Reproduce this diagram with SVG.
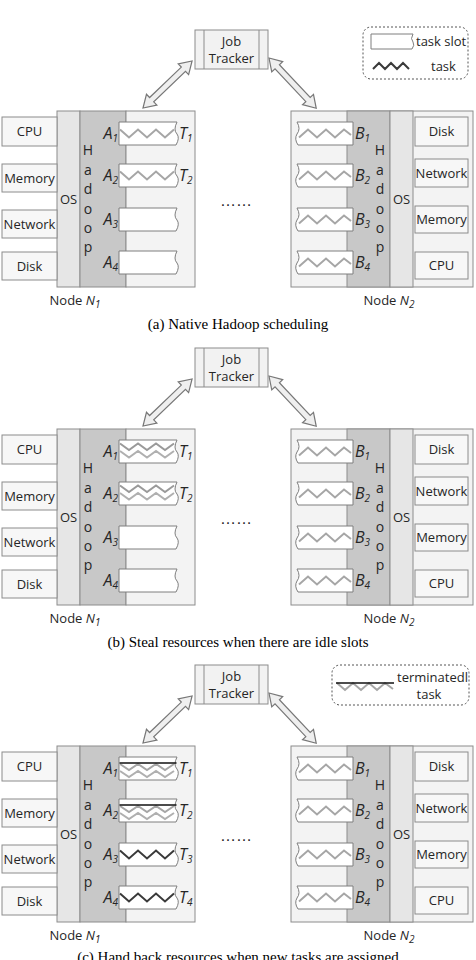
<svg xmlns="http://www.w3.org/2000/svg" xmlns:xlink="http://www.w3.org/1999/xlink" width="476" height="960" viewBox="0 0 476 960">
<style>
.t{font-family:"Open Sans","Liberation Sans",sans-serif;font-size:13px;fill:#262626}
.c{text-anchor:middle}
.it{font-style:italic;font-size:16px}
.sb{font-size:10px}
.hl{font-size:14px;text-anchor:middle}
.cap{font-family:"Liberation Serif",serif;font-size:15px;fill:#000;text-anchor:middle}
.dots{font-family:"Liberation Sans",sans-serif;font-size:16px;fill:#262626}
.body{fill:#f3f3f3;stroke:#8c8c8c;stroke-width:1}
.os{fill:#e6e6e6;stroke:#8c8c8c;stroke-width:1}
.hd{fill:#c8c8c8;stroke:#8c8c8c;stroke-width:1}
.box{fill:#f7f7f7;stroke:#8c8c8c;stroke-width:1}
.jt{fill:#f2f2f2;stroke:#8c8c8c;stroke-width:1}
.ln{stroke:#8c8c8c;stroke-width:1}
.lg{fill:none;stroke:#555;stroke-width:1;stroke-dasharray:2,2}
.arr{fill:#efefef;stroke:#777;stroke-width:1.2;stroke-linejoin:miter}
.slot{fill:#fff;stroke:#7f7f7f;stroke-width:1}
.zg{fill:none;stroke:#a6a6a6;stroke-width:2}
.zk{fill:none;stroke:#3a3a3a;stroke-width:2}
</style>
<defs>
<path id="sL" d="M0,0 H58 Q54,8 58,12 Q61,16 57,23 H0 Z" fill="#fff" stroke="#7f7f7f" stroke-width="1"/>
<path id="sR" d="M57,0 H1 Q5,7 1,12 Q-2,17 2,23 H57 Z" fill="#fff" stroke="#7f7f7f" stroke-width="1"/>
<polyline id="zA" points="1,7.5 10,15.5 19,7.5 28,15.5 37,7.5 46,15.5 55,7.5" fill="none" stroke="#a6a6a6" stroke-width="2"/>
<polyline id="zAk" points="1,7.5 10,15.5 19,7.5 28,15.5 37,7.5 46,15.5 55,7.5" fill="none" stroke="#3a3a3a" stroke-width="2"/>
<g id="zA2">
<polyline points="1,3.5 10,10 19,3.5 28,10 37,3.5 46,10 55,3.5" fill="none" stroke="#9a9a9a" stroke-width="2"/>
<polyline points="1,11 10,17.5 19,11 28,17.5 37,11 46,17.5 55,11" fill="none" stroke="#b0b0b0" stroke-width="2"/>
</g>
<g id="zAt">
<polyline points="1,7 10,13 19,7 28,13 37,7 46,13 55,7" fill="none" stroke="#a6a6a6" stroke-width="2"/>
<polyline points="1,14 10,20 19,14 28,20 37,14 46,20 55,14" fill="none" stroke="#b0b0b0" stroke-width="2"/>
<line x1="0.5" y1="6" x2="57.5" y2="6" stroke="#111" stroke-width="1.6"/>
</g>
<polyline id="zB" points="3,15.5 12,7.5 21,15.5 30,7.5 39,15.5 48,7.5 55,13" fill="none" stroke="#a6a6a6" stroke-width="2"/>
<polygon id="arL" class="arr" points="0,0 12,-7.5 12,-3 56,-3 56,-7.5 68,0 56,7.5 56,3 12,3 12,7.5"/>
<polygon id="arR" class="arr" points="0,0 12,-7.5 12,-3 57,-3 57,-7.5 69,0 57,7.5 57,3 12,3 12,7.5"/>
</defs>
<rect x="0" y="0" width="476" height="960" fill="#fff"/>

<!-- ===== Panel (a) ===== -->
<g id="panel-a">
<g id="connectors-a">
<polygon class="arr" transform="translate(143,108) rotate(-43.8)" points="0,0 12,-7.5 12,-3 56,-3 56,-7.5 68,0 56,7.5 56,3 12,3 12,7.5"/>
<polygon class="arr" transform="translate(269,58) rotate(46.8)" points="0,0 12,-7.5 12,-3 57,-3 57,-7.5 69,0 57,7.5 57,3 12,3 12,7.5"/>
</g>
<g id="jobtracker-a">
<rect x="195" y="30" width="73" height="39" class="jt"/>
<line x1="204" y1="30" x2="204" y2="69" class="ln"/>
<line x1="259" y1="30" x2="259" y2="69" class="ln"/>
<text x="231.5" y="46" class="t c">Job</text>
<text x="231.5" y="63" class="t c">Tracker</text>
</g>
<g id="legend-a">
<rect x="363" y="27" width="105" height="52" rx="8" class="lg"/>
<path d="M371,34 H413 Q410,39 413,42 Q415,45 412,49 H371 Z" class="slot"/>
<text x="416" y="46" class="t">task slot</text>
<polyline points="373,69 379,63 385,69 391,63 397,69 403,63 409,69" class="zk"/>
<text x="431" y="71" class="t">task</text>
</g>
<g id="node-n1-a">
<rect x="57" y="111" width="23" height="176" class="os"/>
<rect x="80" y="111" width="46" height="176" class="hd"/>
<rect x="126" y="111" width="69" height="176" class="body"/>
<rect x="2" y="117" width="55" height="29" class="box"/>
<rect x="2" y="164" width="55" height="28" class="box"/>
<rect x="2" y="210" width="55" height="28" class="box"/>
<rect x="2" y="252" width="55" height="28" class="box"/>
<text x="29.5" y="136" class="t c">CPU</text>
<text x="29.5" y="182.5" class="t c">Memory</text>
<text x="29.5" y="228.5" class="t c">Network</text>
<text x="29.5" y="270.5" class="t c">Disk</text>
<text x="68.5" y="204" class="t c">OS</text>
<text class="t hl"><tspan x="88" y="155">H</tspan><tspan x="88" y="174.5">a</tspan><tspan x="88" y="194">d</tspan><tspan x="88" y="213.5">o</tspan><tspan x="88" y="233">o</tspan><tspan x="88" y="252">p</tspan></text>
<use href="#sL" x="119" y="122"/>
<use href="#sL" x="119" y="164"/>
<use href="#sL" x="119" y="208"/>
<use href="#sL" x="119" y="251"/>
<use href="#zA" x="119" y="122"/>
<use href="#zA" x="119" y="164"/>
<text x="118" y="139" class="t it" text-anchor="end">A<tspan class="sb" dy="3">1</tspan></text>
<text x="118" y="181" class="t it" text-anchor="end">A<tspan class="sb" dy="3">2</tspan></text>
<text x="118" y="225" class="t it" text-anchor="end">A<tspan class="sb" dy="3">3</tspan></text>
<text x="118" y="268" class="t it" text-anchor="end">A<tspan class="sb" dy="3">4</tspan></text>
<text x="179" y="139" class="t it">T<tspan class="sb" dy="3">1</tspan></text>
<text x="179" y="181" class="t it">T<tspan class="sb" dy="3">2</tspan></text>
<text x="75" y="305" class="t c">Node <tspan font-style="italic">N</tspan><tspan class="sb" font-style="italic" dy="3">1</tspan></text>
</g>
<g id="node-n2-a">
<rect x="291" y="111" width="182" height="176" class="body"/>
<rect x="347" y="111" width="43" height="176" class="hd"/>
<rect x="390" y="111" width="23" height="176" class="os"/>
<rect x="415" y="117" width="53" height="29" class="box"/>
<rect x="415" y="159" width="53" height="28" class="box"/>
<rect x="415" y="206" width="53" height="27" class="box"/>
<rect x="415" y="252" width="53" height="27" class="box"/>
<text x="441.5" y="136" class="t c">Disk</text>
<text x="441.5" y="177.5" class="t c">Network</text>
<text x="441.5" y="224" class="t c">Memory</text>
<text x="441.5" y="270" class="t c">CPU</text>
<text x="401.5" y="204" class="t c">OS</text>
<text class="t hl"><tspan x="380" y="155">H</tspan><tspan x="380" y="174.5">a</tspan><tspan x="380" y="194">d</tspan><tspan x="380" y="213.5">o</tspan><tspan x="380" y="233">o</tspan><tspan x="380" y="252">p</tspan></text>
<use href="#sR" x="296" y="122"/>
<use href="#sR" x="296" y="164"/>
<use href="#sR" x="296" y="208"/>
<use href="#sR" x="296" y="251"/>
<use href="#zB" x="296" y="122"/>
<use href="#zB" x="296" y="164"/>
<use href="#zB" x="296" y="208"/>
<use href="#zB" x="296" y="251"/>
<text x="355" y="139" class="t it">B<tspan class="sb" dy="3">1</tspan></text>
<text x="355" y="181" class="t it">B<tspan class="sb" dy="3">2</tspan></text>
<text x="355" y="225" class="t it">B<tspan class="sb" dy="3">3</tspan></text>
<text x="355" y="268" class="t it">B<tspan class="sb" dy="3">4</tspan></text>
<text x="389" y="305" class="t c">Node <tspan font-style="italic">N</tspan><tspan class="sb" font-style="italic" dy="3">2</tspan></text>
</g>
<text x="220" y="206" class="dots">……</text>
<text x="238" y="329" class="cap">(a) Native Hadoop scheduling</text>
</g>

<!-- ===== Panel (b) ===== -->
<g id="panel-b" transform="translate(0,318)">
<g id="connectors-b">
<polygon class="arr" transform="translate(143,108) rotate(-43.8)" points="0,0 12,-7.5 12,-3 56,-3 56,-7.5 68,0 56,7.5 56,3 12,3 12,7.5"/>
<polygon class="arr" transform="translate(269,58) rotate(46.8)" points="0,0 12,-7.5 12,-3 57,-3 57,-7.5 69,0 57,7.5 57,3 12,3 12,7.5"/>
</g>
<g id="jobtracker-b">
<rect x="195" y="30" width="73" height="39" class="jt"/>
<line x1="204" y1="30" x2="204" y2="69" class="ln"/>
<line x1="259" y1="30" x2="259" y2="69" class="ln"/>
<text x="231.5" y="46" class="t c">Job</text>
<text x="231.5" y="63" class="t c">Tracker</text>
</g>
<g id="node-n1-b">
<rect x="57" y="111" width="23" height="176" class="os"/>
<rect x="80" y="111" width="46" height="176" class="hd"/>
<rect x="126" y="111" width="69" height="176" class="body"/>
<rect x="2" y="117" width="55" height="29" class="box"/>
<rect x="2" y="164" width="55" height="28" class="box"/>
<rect x="2" y="210" width="55" height="28" class="box"/>
<rect x="2" y="252" width="55" height="28" class="box"/>
<text x="29.5" y="136" class="t c">CPU</text>
<text x="29.5" y="182.5" class="t c">Memory</text>
<text x="29.5" y="228.5" class="t c">Network</text>
<text x="29.5" y="270.5" class="t c">Disk</text>
<text x="68.5" y="204" class="t c">OS</text>
<text class="t hl"><tspan x="88" y="155">H</tspan><tspan x="88" y="174.5">a</tspan><tspan x="88" y="194">d</tspan><tspan x="88" y="213.5">o</tspan><tspan x="88" y="233">o</tspan><tspan x="88" y="252">p</tspan></text>
<use href="#sL" x="119" y="122"/>
<use href="#sL" x="119" y="164"/>
<use href="#sL" x="119" y="208"/>
<use href="#sL" x="119" y="251"/>
<use href="#zA2" x="119" y="122"/>
<use href="#zA2" x="119" y="164"/>
<text x="118" y="139" class="t it" text-anchor="end">A<tspan class="sb" dy="3">1</tspan></text>
<text x="118" y="181" class="t it" text-anchor="end">A<tspan class="sb" dy="3">2</tspan></text>
<text x="118" y="225" class="t it" text-anchor="end">A<tspan class="sb" dy="3">3</tspan></text>
<text x="118" y="268" class="t it" text-anchor="end">A<tspan class="sb" dy="3">4</tspan></text>
<text x="179" y="139" class="t it">T<tspan class="sb" dy="3">1</tspan></text>
<text x="179" y="181" class="t it">T<tspan class="sb" dy="3">2</tspan></text>
<text x="75" y="305" class="t c">Node <tspan font-style="italic">N</tspan><tspan class="sb" font-style="italic" dy="3">1</tspan></text>
</g>
<g id="node-n2-b">
<rect x="291" y="111" width="182" height="176" class="body"/>
<rect x="347" y="111" width="43" height="176" class="hd"/>
<rect x="390" y="111" width="23" height="176" class="os"/>
<rect x="415" y="117" width="53" height="29" class="box"/>
<rect x="415" y="159" width="53" height="28" class="box"/>
<rect x="415" y="206" width="53" height="27" class="box"/>
<rect x="415" y="252" width="53" height="27" class="box"/>
<text x="441.5" y="136" class="t c">Disk</text>
<text x="441.5" y="177.5" class="t c">Network</text>
<text x="441.5" y="224" class="t c">Memory</text>
<text x="441.5" y="270" class="t c">CPU</text>
<text x="401.5" y="204" class="t c">OS</text>
<text class="t hl"><tspan x="380" y="155">H</tspan><tspan x="380" y="174.5">a</tspan><tspan x="380" y="194">d</tspan><tspan x="380" y="213.5">o</tspan><tspan x="380" y="233">o</tspan><tspan x="380" y="252">p</tspan></text>
<use href="#sR" x="296" y="122"/>
<use href="#sR" x="296" y="164"/>
<use href="#sR" x="296" y="208"/>
<use href="#sR" x="296" y="251"/>
<use href="#zB" x="296" y="122"/>
<use href="#zB" x="296" y="164"/>
<use href="#zB" x="296" y="208"/>
<use href="#zB" x="296" y="251"/>
<text x="355" y="139" class="t it">B<tspan class="sb" dy="3">1</tspan></text>
<text x="355" y="181" class="t it">B<tspan class="sb" dy="3">2</tspan></text>
<text x="355" y="225" class="t it">B<tspan class="sb" dy="3">3</tspan></text>
<text x="355" y="268" class="t it">B<tspan class="sb" dy="3">4</tspan></text>
<text x="389" y="305" class="t c">Node <tspan font-style="italic">N</tspan><tspan class="sb" font-style="italic" dy="3">2</tspan></text>
</g>
<text x="220" y="206" class="dots">……</text>
<text x="238" y="329" class="cap">(b) Steal resources when there are idle slots</text>
</g>

<!-- ===== Panel (c) ===== -->
<g id="panel-c" transform="translate(0,635)">
<g id="connectors-c">
<polygon class="arr" transform="translate(143,108) rotate(-43.8)" points="0,0 12,-7.5 12,-3 56,-3 56,-7.5 68,0 56,7.5 56,3 12,3 12,7.5"/>
<polygon class="arr" transform="translate(269,58) rotate(46.8)" points="0,0 12,-7.5 12,-3 57,-3 57,-7.5 69,0 57,7.5 57,3 12,3 12,7.5"/>
</g>
<g id="jobtracker-c">
<rect x="195" y="30" width="73" height="39" class="jt"/>
<line x1="204" y1="30" x2="204" y2="69" class="ln"/>
<line x1="259" y1="30" x2="259" y2="69" class="ln"/>
<text x="231.5" y="46" class="t c">Job</text>
<text x="231.5" y="63" class="t c">Tracker</text>
</g>
<g id="legend-c">
<rect x="332" y="30" width="137" height="40" rx="8" class="lg"/>
<polyline points="337,48 345,55 353,48 361,55 369,48 377,55 385,48 393,54" class="zg"/>
<line x1="336" y1="48" x2="394" y2="48" stroke="#111" stroke-width="1.6"/>
<text x="397" y="46.5" class="t">terminatedl</text>
<text x="429" y="64" class="t c">task</text>
</g>
<g id="node-n1-c">
<rect x="57" y="111" width="23" height="176" class="os"/>
<rect x="80" y="111" width="46" height="176" class="hd"/>
<rect x="126" y="111" width="69" height="176" class="body"/>
<rect x="2" y="117" width="55" height="29" class="box"/>
<rect x="2" y="164" width="55" height="28" class="box"/>
<rect x="2" y="210" width="55" height="28" class="box"/>
<rect x="2" y="252" width="55" height="28" class="box"/>
<text x="29.5" y="136" class="t c">CPU</text>
<text x="29.5" y="182.5" class="t c">Memory</text>
<text x="29.5" y="228.5" class="t c">Network</text>
<text x="29.5" y="270.5" class="t c">Disk</text>
<text x="68.5" y="204" class="t c">OS</text>
<text class="t hl"><tspan x="88" y="155">H</tspan><tspan x="88" y="174.5">a</tspan><tspan x="88" y="194">d</tspan><tspan x="88" y="213.5">o</tspan><tspan x="88" y="233">o</tspan><tspan x="88" y="252">p</tspan></text>
<use href="#sL" x="119" y="122"/>
<use href="#sL" x="119" y="164"/>
<use href="#sL" x="119" y="208"/>
<use href="#sL" x="119" y="251"/>
<use href="#zAt" x="119" y="122"/>
<use href="#zAt" x="119" y="164"/>
<use href="#zAk" x="119" y="208"/>
<use href="#zAk" x="119" y="251"/>
<text x="118" y="139" class="t it" text-anchor="end">A<tspan class="sb" dy="3">1</tspan></text>
<text x="118" y="181" class="t it" text-anchor="end">A<tspan class="sb" dy="3">2</tspan></text>
<text x="118" y="225" class="t it" text-anchor="end">A<tspan class="sb" dy="3">3</tspan></text>
<text x="118" y="268" class="t it" text-anchor="end">A<tspan class="sb" dy="3">4</tspan></text>
<text x="179" y="139" class="t it">T<tspan class="sb" dy="3">1</tspan></text>
<text x="179" y="181" class="t it">T<tspan class="sb" dy="3">2</tspan></text>
<text x="179" y="225" class="t it">T<tspan class="sb" dy="3">3</tspan></text>
<text x="179" y="268" class="t it">T<tspan class="sb" dy="3">4</tspan></text>
<text x="75" y="305" class="t c">Node <tspan font-style="italic">N</tspan><tspan class="sb" font-style="italic" dy="3">1</tspan></text>
</g>
<g id="node-n2-c">
<rect x="291" y="111" width="182" height="176" class="body"/>
<rect x="347" y="111" width="43" height="176" class="hd"/>
<rect x="390" y="111" width="23" height="176" class="os"/>
<rect x="415" y="117" width="53" height="29" class="box"/>
<rect x="415" y="159" width="53" height="28" class="box"/>
<rect x="415" y="206" width="53" height="27" class="box"/>
<rect x="415" y="252" width="53" height="27" class="box"/>
<text x="441.5" y="136" class="t c">Disk</text>
<text x="441.5" y="177.5" class="t c">Network</text>
<text x="441.5" y="224" class="t c">Memory</text>
<text x="441.5" y="270" class="t c">CPU</text>
<text x="401.5" y="204" class="t c">OS</text>
<text class="t hl"><tspan x="380" y="155">H</tspan><tspan x="380" y="174.5">a</tspan><tspan x="380" y="194">d</tspan><tspan x="380" y="213.5">o</tspan><tspan x="380" y="233">o</tspan><tspan x="380" y="252">p</tspan></text>
<use href="#sR" x="296" y="122"/>
<use href="#sR" x="296" y="164"/>
<use href="#sR" x="296" y="208"/>
<use href="#sR" x="296" y="251"/>
<use href="#zB" x="296" y="122"/>
<use href="#zB" x="296" y="164"/>
<use href="#zB" x="296" y="208"/>
<use href="#zB" x="296" y="251"/>
<text x="355" y="139" class="t it">B<tspan class="sb" dy="3">1</tspan></text>
<text x="355" y="181" class="t it">B<tspan class="sb" dy="3">2</tspan></text>
<text x="355" y="225" class="t it">B<tspan class="sb" dy="3">3</tspan></text>
<text x="355" y="268" class="t it">B<tspan class="sb" dy="3">4</tspan></text>
<text x="389" y="305" class="t c">Node <tspan font-style="italic">N</tspan><tspan class="sb" font-style="italic" dy="3">2</tspan></text>
</g>
<text x="220" y="206" class="dots">……</text>
<text x="238" y="327" class="cap">(c) Hand back resources when new tasks are assigned</text>
</g>
</svg>
